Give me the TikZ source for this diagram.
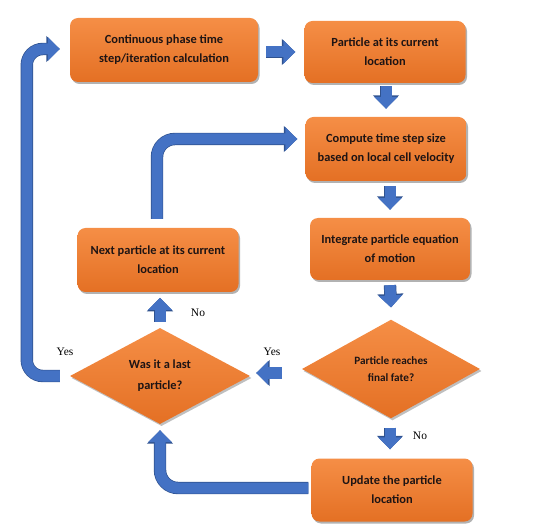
\documentclass[tikz,border=0pt]{standalone}
\usepackage{fontspec}
\setmainfont{Liberation Serif}
\newfontfamily\boxfont{Carlito}
\usetikzlibrary{shapes.geometric,arrows.meta,shadows,calc}
\definecolor{boxtop}{RGB}{245,142,70}
\definecolor{boxbot}{RGB}{228,112,36}
\definecolor{arrowfill}{RGB}{68,114,196}
\definecolor{arrowline}{RGB}{47,82,143}
\definecolor{txt}{RGB}{30,20,20}
\begin{document}
\begin{tikzpicture}[x=1pt,y=-1pt,
  box/.style={rectangle, rounded corners=8pt, top color=boxtop, bottom color=boxbot,
    draw=none, align=center, inner sep=0pt, text=txt,
    font=\boxfont\bfseries\fontsize{12.4}{19}\selectfont,
    drop shadow={shadow xshift=1.5pt,shadow yshift=-2pt,opacity=0.3,fill=black}},
  dec/.style={diamond, top color=boxtop, bottom color=boxbot, draw=none, align=center,
    inner sep=0pt, text=txt,
    drop shadow={shadow xshift=1.5pt,shadow yshift=-2pt,opacity=0.25,fill=black}},
  blockarrow/.style={line width=11pt, draw=arrowfill,
    -{Triangle[width=23pt,length=12pt]},
    preaction={draw=arrowline, line width=12.4pt, -{Triangle[width=25.5pt,length=13.5pt]}}},
  lbl/.style={font=\fontsize{11.5}{13}\selectfont, inner sep=0pt}
]
\useasboundingbox (0,0) rectangle (554,526);

\node[box, minimum width=188pt, minimum height=64pt] (b1) at (164,50)
  {Continuous phase time\\step/iteration calculation};
\node[box, minimum width=161pt, minimum height=62pt] (b2) at (385,52)
  {Particle at its current\\location};
\node[box, minimum width=161pt, minimum height=64pt] (b3) at (386,149)
  {Compute time step size\\based on local cell velocity};
\node[box, minimum width=160pt, minimum height=62pt] (b4) at (390,249)
  {Integrate particle equation\\of motion};
\node[dec, minimum width=178pt, minimum height=98pt,
  font=\boxfont\bfseries\fontsize{11.2}{17.5}\selectfont] (d1) at (391,369)
  {Particle reaches\\final fate?};
\node[dec, minimum width=180pt, minimum height=96pt,
  font=\boxfont\bfseries\fontsize{12.4}{21}\selectfont] (d2) at (160,376)
  {Was it a last\\particle?};
\node[box, minimum width=161pt, minimum height=64pt] (b5) at (158,260)
  {Next particle at its current\\location};
\node[box, minimum width=161pt, minimum height=63pt] (b6) at (392,490)
  {Update the particle\\location};

% straight connectors
\draw[blockarrow] ($(b1.east)+(8,2)$) -- ($(b2.west)+(-9,0)$);
\draw[blockarrow] ($(b2.south)+(1,3)$) -- ($(b3.north)+(0,-8)$);
\draw[blockarrow] ($(b3.south)+(4,5)$) -- ($(b4.north)+(0,-8)$);
\draw[blockarrow] ($(b4.south)+(0,5)$) -- ($(d1.north)+(0,-12)$);
\draw[blockarrow] ($(d1.west)+(-20,4)$) -- ($(d2.east)+(6,-3)$);
\draw[blockarrow] ($(d2.north)+(0,-6)$) -- ($(b5.south |- d2.north)+(2,-30)$);
\draw[blockarrow] ($(d1.south)+(-1,9)$) -- ($(b6.north)+(-2,-9)$);

% bent connectors
\draw[blockarrow, rounded corners=16pt] ($(d2.west)+(-10,0)$) -- ++(-33,0)
  |- ($(b1.west)+(-10,-1)$);
\draw[blockarrow, rounded corners=18pt] ($(b5.north)+(-1,-9)$)
  |- ($(b3.west)+(-8,-10)$);
\draw[blockarrow, rounded corners=18pt] ($(b6.west)+(-3,-2)$)
  -| ($(d2.south)+(0,6)$);

% labels
\node[lbl] (yes1) at (272,352) {Yes};
\node[lbl] (yes2) at (65,352) {Yes};
\node[lbl] (no1) at (198,313) {No};
\node[lbl] (no2) at (420,436) {No};
\end{tikzpicture}
\end{document}
